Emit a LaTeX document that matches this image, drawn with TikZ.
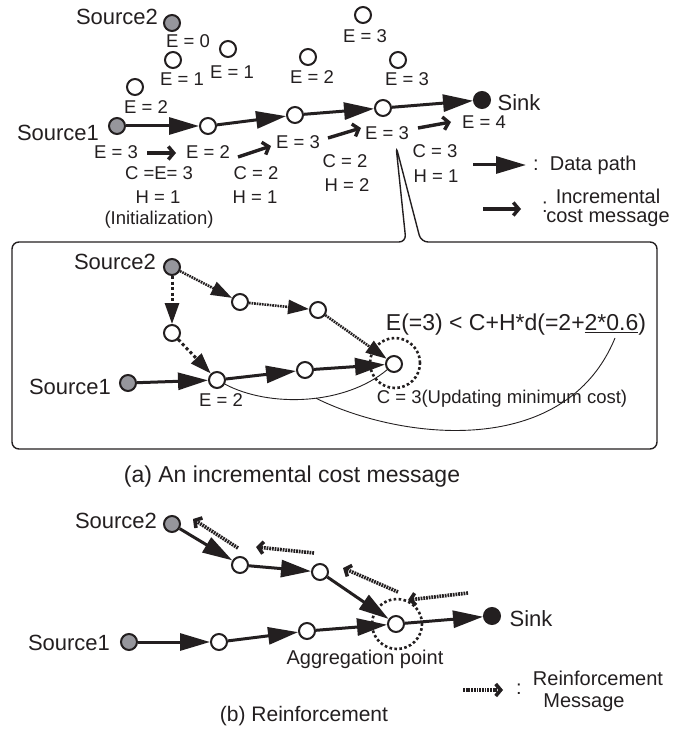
\documentclass[tikz,border=0pt]{standalone}
\usepackage{fontspec}
\setmainfont{Liberation Sans}
\usetikzlibrary{arrows.meta}
\definecolor{ink}{RGB}{35,31,32}
\definecolor{srcgray}{RGB}{150,150,156}
\begin{document}
\begin{tikzpicture}[x=1pt,y=-1pt,
  every node/.style={text=ink},
  nd/.style={circle,draw=ink,line width=2pt,fill=white,minimum size=16pt,inner sep=0pt},
  srcnd/.style={nd,fill=srcgray},
  snknd/.style={nd,fill=ink},
  ring/.style={circle,draw=ink,line width=2.6pt,dash pattern=on 2.6pt off 2.4pt,minimum size=50pt,inner sep=0pt},
  lbl/.style={font=\fontsize{18.5}{20}\selectfont,inner sep=0pt},
  big/.style={font=\fontsize{22}{24}\selectfont,inner sep=0pt},
  leg/.style={font=\fontsize{20}{21}\selectfont,inner sep=0pt},
  formula/.style={font=\fontsize{23}{25}\selectfont,inner sep=0pt},
  capa/.style={font=\fontsize{23}{25}\selectfont,inner sep=0pt},
  capb/.style={font=\fontsize{21}{23}\selectfont,inner sep=0pt},
  data/.style={draw=ink,line width=3pt,-{Triangle[length=30pt,width=17pt]}},
  incr/.style={draw=ink,line width=3.4pt,-{Straight Barb[length=5.5pt,width=13pt]}},
  fdot/.style={draw=ink,line width=2.6pt,dash pattern=on 1.7pt off 0.9pt,-{Triangle[length=21pt,width=14pt]}},
  cdot/.style={draw=ink,line width=3pt,dash pattern=on 3pt off 2.6pt,-{Triangle[length=21pt,width=14pt]}},
  reinf/.style={draw=ink,line width=3.6pt,dash pattern=on 1.8pt off 0.9pt,-{Straight Barb[length=5pt,width=12pt]}},
  boxline/.style={draw=ink,line width=1.4pt,rounded corners=7pt},
  thinline/.style={draw=ink,line width=0.9pt}
]
\useasboundingbox (0,0) rectangle (694,730);

% ---------------- top part ----------------
\node[big] (s2t) at (117,17) {Source2};
\node[srcnd] (s2) at (172,23) {};
\node[lbl] (e0) at (188,41) {E = 0};
\node[nd] (u1) at (173,60) {};  \node[lbl] (u1l) at (182,79) {E = 1};
\node[nd] (u2) at (228,49) {};  \node[lbl] (u2l) at (232,72) {E = 1};
\node[nd] (u3) at (308,57) {};  \node[lbl] (u3l) at (312,77) {E = 2};
\node[nd] (u4) at (135,87) {};  \node[lbl] (u4l) at (146,107) {E = 2};
\node[nd] (u5) at (363,15) {};  \node[lbl] (u5l) at (365,36) {E = 3};
\node[nd] (u6) at (398,60) {};  \node[lbl] (u6l) at (407,79) {E = 3};

\node[big] (s1t) at (58,133) {Source1};
\node[srcnd] (s1) at (117,126) {};
\node[nd] (p2) at (208,126) {};
\node[nd] (p3) at (295,115) {};
\node[nd] (p4) at (383,108) {};
\node[snknd] (sk) at (482,100) {};
\node[big] (skt) at (519,103) {Sink};

\draw[data] (s1) -- (p2);
\draw[data] (p2) -- (p3);
\draw[data] (p3) -- (p4);
\draw[data] (p4) -- (sk);

\node[lbl] (m1) at (116,152) {E = 3};
\node[lbl] (m2) at (208,152) {E = 2};
\node[lbl] (m3) at (298,142) {E = 3};
\node[lbl] (m4) at (387,133) {E = 3};
\node[lbl] (m5) at (484,122) {E = 4};

\node[lbl] (c1) at (159,173) {C =E= 3};
\node[lbl] (h1) at (158,197) {H = 1};
\node[lbl] (ini) at (159,220) {(Initialization)};
\node[lbl] (c2) at (256,173) {C = 2};
\node[lbl] (h2) at (255,197) {H = 1};
\node[lbl] (c3) at (345,161) {C = 2};
\node[lbl] (h3) at (347,185) {H = 2};
\node[lbl] (c4) at (435,151) {C = 3};
\node[lbl] (h4) at (436,176) {H = 1};

\coordinate (ia1) at (147,153); \coordinate (ib1) at (176,153);
\coordinate (ia2) at (238,157); \coordinate (ib2) at (271,146);
\coordinate (ia3) at (328,138); \coordinate (ib3) at (361,128);
\coordinate (ia4) at (418,128); \coordinate (ib4) at (451,122);
\draw[incr] (ia1) -- (ib1);
\draw[incr] (ia2) -- (ib2);
\draw[incr] (ia3) -- (ib3);
\draw[incr] (ia4) -- (ib4);

% legend (top)
\coordinate (lda) at (473,165); \coordinate (ldb) at (526,165);
\draw[data] (lda) -- (ldb);
\node[leg,anchor=west] (ldt) at (533,165) {:\ \ Data path};
\coordinate (lia) at (483,209); \coordinate (lib) at (521,209);
\draw[incr] (lia) -- (lib);
\node[leg] (lic) at (545,207) {:};
\node[leg,align=center,font=\fontsize{20}{19.5}\selectfont] (lit) at (608,208) {Incremental\\cost message};

% ---------------- callout box ----------------
\draw[boxline] (396,146) -- (406,242) -- (12,242) -- (12,449) -- (657,449) -- (657,242) -- (421,242) -- cycle;

\node[big] (bs2t) at (115,262) {Source2};
\node[srcnd] (bs2) at (172,267) {};
\node[nd] (ba) at (240,302) {};
\node[nd] (bb) at (318,310) {};
\node[nd] (bl) at (172,333) {};
\node[nd] (be2) at (217,380) {};
\node[srcnd] (bs1) at (128,383) {};
\node[big] (bs1t) at (70,387) {Source1};
\node[nd] (bm) at (305,370) {};
\node[nd] (bt) at (394,364) {};
\node[ring] (bring) at (395,363) {};
\node[lbl] (be2l) at (221,400) {E = 2};
\node[formula] (fm) at (516,325) {E(=3) < C+H*d(=2+\underline{2*0.6})};
\node[lbl] (upd) at (502,399) {C = 3(Updating minimum cost)};

\draw[fdot] (bs2) -- (ba);
\draw[fdot] (ba) -- (bb);
\draw[fdot] (bb) -- (bt);
\draw[cdot] (bs2) -- (bl);
\draw[cdot] (bl) -- (be2);
\draw[data] (bs1) -- (be2);
\draw[data] (be2) -- (bm);
\draw[data] (bm) -- (bt);

\coordinate (ulend) at (615,338);
\draw[thinline] (be2) .. controls (270,408) and (345,405) .. (bt) coordinate[pos=0.55] (br);
\draw[thinline] (br) .. controls (400,440) and (565,460) .. (ulend);

\node[capa] (capta) at (292,477) {(a) An incremental cost message};

% ---------------- bottom part ----------------
\node[big] (cs2t) at (116,521) {Source2};
\node[srcnd] (cs2) at (172,524) {};
\node[nd] (ca) at (240,565) {};
\node[nd] (cb) at (320,572) {};
\node[nd] (cg) at (396,624) {};
\node[ring] (cring) at (397,624) {};
\node[snknd] (csk) at (492,616) {};
\node[big] (cskt) at (531,619) {Sink};
\node[srcnd] (cs1) at (129,642) {};
\node[big] (cs1t) at (69,643) {Source1};
\node[nd] (cc) at (219,642) {};
\node[nd] (cd) at (307,631) {};
\node[leg] (aggt) at (365,659) {Aggregation point};

\draw[data] (cs2) -- (ca);
\draw[data] (ca) -- (cb);
\draw[data] (cb) -- (cg);
\draw[data] (cs1) -- (cc);
\draw[data] (cc) -- (cd);
\draw[data] (cd) -- (cg);
\draw[data] (cg) -- (csk);

\coordinate (ra1) at (238,548); \coordinate (rb1) at (193,519);
\coordinate (ra2) at (314,553); \coordinate (rb2) at (256,547);
\coordinate (ra3) at (398,592); \coordinate (rb3) at (343,568);
\coordinate (ra4) at (468,593); \coordinate (rb4) at (408,600);
\draw[reinf] (ra1) -- (rb1);
\draw[reinf] (ra2) -- (rb2);
\draw[reinf] (ra3) -- (rb3);
\draw[reinf] (ra4) -- (rb4);

\coordinate (lra) at (463,690); \coordinate (lrb) at (503,690);
\draw[reinf] (lra) -- (lrb);
\node[leg] (lrc) at (519,689) {:};
\node[leg] (lrt1) at (598,678) {Reinforcement};
\node[leg] (lrt2) at (584,703) {Message};

\node[capb] (captb) at (304,716) {(b) Reinforcement};
\end{tikzpicture}
\end{document}
